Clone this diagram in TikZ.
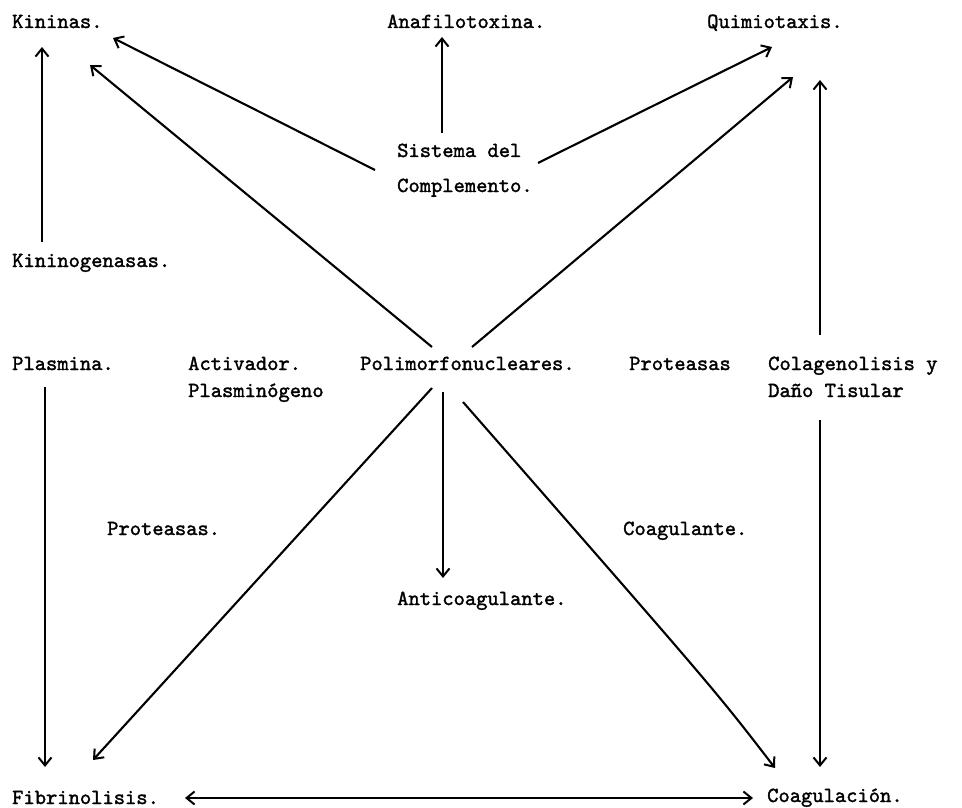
\documentclass[tikz,border=0pt]{standalone}
\usepackage{fontspec}
\setmonofont{lmmono10-regular.otf}[FakeBold=1.6]
\usetikzlibrary{arrows.meta}
\begin{document}
\begin{tikzpicture}[x=1pt,y=-1pt,
  lbl/.style={anchor=base west,inner sep=0pt,font=\ttfamily\fontsize{21.5}{26}\selectfont},
  arr/.style={line width=2.1pt,-{Straight Barb[length=8pt,width=13pt,line width=2pt]}},
  darr/.style={line width=2.1pt,{Straight Barb[length=8pt,width=13pt,line width=2pt]}-{Straight Barb[length=8pt,width=13pt,line width=2pt]}}]
\useasboundingbox (0,0) rectangle (962,808);
\fill[white] (0,0) rectangle (962,808);
% nodes
\node[lbl] (kin)  at (12,28)  {Kininas.};
\node[lbl] (ana)  at (387,28) {Anafilotoxina.};
\node[lbl] (qui)  at (707,28) {Quimiotaxis.};
\node[lbl] (sisA) at (397,157) {Sistema del};
\node[lbl] (sisB) at (397,192) {Complemento.};
\node[lbl] (kng)  at (12,267) {Kininogenasas.};
\node[lbl] (pla)  at (12,370) {Plasmina.};
\node[lbl] (actA) at (188,370) {Activador.};
\node[lbl] (actB) at (188,397) {Plasminógeno};
\node[lbl] (pol)  at (360,370) {Polimorfonucleares.};
\node[lbl] (pro)  at (629,370) {Proteasas};
\node[lbl] (colA) at (768,370) {Colagenolisis y};
\node[lbl] (colB) at (768,397) {Daño Tisular};
\node[lbl] (prot) at (107,535) {Proteasas.};
\node[lbl] (coa)  at (623,535) {Coagulante.};
\node[lbl] (anti) at (397,605) {Anticoagulante.};
\node[lbl] (fib)  at (12,804) {Fibrinolisis.};
\node[lbl] (coag) at (767,802) {Coagulación.};
% connectors
\draw[arr] ([shift={(30,-25)}]kng.base west) -- ([shift={(30,19)}]kin.base west);
\draw[arr] ([shift={(-22,13)}]sisA.base west) -- ([shift={(101,10)}]kin.base west);
\draw[arr] ([shift={(72,-23)}]pol.base west) -- ([shift={(78,37)}]kin.base west);
\draw[arr] ([shift={(45,-24)}]sisA.base west) -- ([shift={(55,9)}]ana.base west);
\draw[arr] ([shift={(141,6)}]sisA.base west) .. controls ([shift={(165,-6)}]sisA.base west) .. ([shift={(65,19)}]qui.base west);
\draw[arr] ([shift={(112,-23)}]pol.base west) -- ([shift={(86,49)}]qui.base west);
\draw[arr] ([shift={(52,-35)}]colA.base west) -- ([shift={(113,52)}]qui.base west);
\draw[arr] ([shift={(33,17)}]pla.base west) -- ([shift={(33,-37)}]fib.base west);
\draw[arr] ([shift={(72,18)}]pol.base west) -- ([shift={(81,-44)}]fib.base west);
\draw[arr] ([shift={(83,22)}]pol.base west) -- ([shift={(46,-27)}]anti.base west);
\draw[arr] ([shift={(103,32)}]pol.base west) .. controls ([shift={(-52,-112)}]coag.base west) .. ([shift={(8,-34)}]coag.base west);
\draw[arr] ([shift={(52,23)}]colB.base west) -- ([shift={(53,-35)}]coag.base west);
\draw[darr] ([shift={(173,-6)}]fib.base west) -- ([shift={(-14,-4)}]coag.base west);
\end{tikzpicture}
\end{document}
